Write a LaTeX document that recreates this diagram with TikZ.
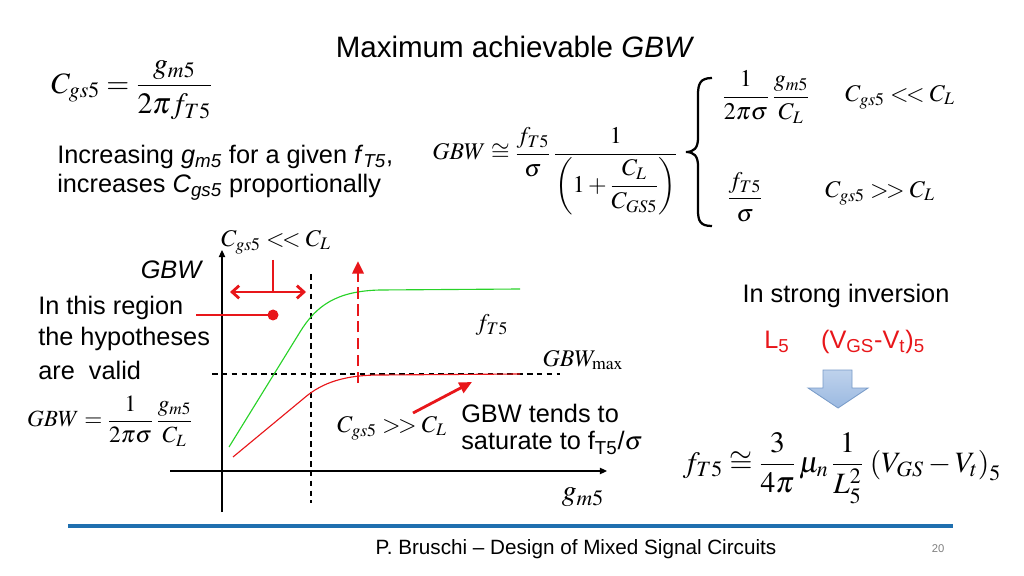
\documentclass[tikz,border=0pt]{standalone}
\usepackage{amsmath}
\usepackage{mathptmx}
\usepackage[no-math]{fontspec}
\setmainfont{Liberation Sans}
\usepackage{tikz}
\usetikzlibrary{arrows.meta,positioning}

\definecolor{myred}{RGB}{232,22,26}
\definecolor{mygreen}{RGB}{40,210,40}
\definecolor{footblue}{RGB}{31,111,175}
\definecolor{arrowtop}{RGB}{190,210,236}
\definecolor{arrowbot}{RGB}{155,185,225}
\definecolor{arrowedge}{RGB}{120,155,200}

\newcommand{\isub}[2]{\textit{#1}\textsubscript{\textit{#2}}}
\newcommand{\mll}{\mathrel{<\!<}}
\newcommand{\mgg}{\mathrel{>\!>}}

\tikzset{
  txt/.style={font=\fontsize{18}{21}\selectfont, inner sep=0pt},
  titletxt/.style={font=\fontsize{21}{25}\selectfont, inner sep=0pt},
  eqbig/.style={font=\fontsize{21}{25}\selectfont, inner sep=0pt},
  eq/.style={font=\fontsize{17}{20}\selectfont, inner sep=0pt},
  eqsmall/.style={font=\fontsize{16.5}{19}\selectfont, inner sep=0pt},
  axis/.style={line width=0.8pt, -{Triangle[length=5pt,width=4.5pt]}},
  guide/.style={line width=0.8pt, dash pattern=on 4pt off 3pt},
  redarrow/.style={draw=myred, line width=2pt},
}

\begin{document}
\begin{tikzpicture}[x=0.025cm, y=-0.025cm]
  \useasboundingbox[fill=white] (0,0) rectangle (1024,576);

  % title and top formulas
  \node[titletxt] (title) at (515,47) {Maximum achievable \textit{GBW}};
  \node[eqbig] (cgs) at (132,90) {$C_{gs5}=\dfrac{g_{m5}}{2\pi f_{T5}}$};
  \node[txt, anchor=west] (incr) at (57,157) {Increasing \isub{g}{m5} for a given \isub{f}{T5},};
  \node[txt, anchor=west] (incr2) at (57,187) {increases \isub{C}{gs5} proportionally};

  \node[eq, anchor=base west] (gbw) at (432,160)
    {$GBW\cong\dfrac{f_{T5}}{\sigma}\,\dfrac{1}{\left(1+\dfrac{C_L}{C_{GS5}}\right)}$};
  % brace
  \draw[line width=1.6pt] (712,78) .. controls (700,78) and (698,84) .. (698,95)
    -- (698,138) .. controls (698,148) and (694,152) .. (686,152)
    .. controls (694,152) and (698,156) .. (698,166)
    -- (698,210) .. controls (698,221) and (700,226) .. (712,226);
  \node[eq] (case1) at (766,97) {$\dfrac{1}{2\pi\sigma}\,\dfrac{g_{m5}}{C_L}$};
  \node[eq] (cond1) at (900,97) {$C_{gs5}\mll C_L$};
  \node[eq] (case2) at (745,197) {$\dfrac{f_{T5}}{\sigma}$};
  \node[eq] (cond2) at (880,193) {$C_{gs5}\mgg C_L$};

  % graph
  \coordinate (ybot) at (222,512);
  \coordinate (ytop) at (222,250);
  \coordinate (xl) at (170,471);
  \coordinate (xr) at (607,471);
  \draw[axis] (ybot) -- (ytop);
  \draw[axis] (xl) -- (xr);

  \coordinate (vd1) at (311,274);
  \coordinate (vd2) at (311,503);
  \coordinate (hd1) at (212,374);
  \coordinate (hd2) at (560,374);
  \draw[guide] (vd1) -- (vd2);
  \draw[guide] (hd1) -- (hd2);

  \draw[mygreen, line width=0.8pt] (229,447) -- (300,332)
    .. controls (316,306) and (336,291) .. (380,290) -- (520,289);
  \draw[myred, line width=0.8pt] (233,457) -- (303,399)
    .. controls (318,386) and (338,375) .. (380,375) -- (520,374);

  % red markers
  \coordinate (rd1) at (358,383);
  \coordinate (rd2) at (358,261);
  \draw[redarrow, dash pattern=on 8pt off 4pt, -{Triangle[length=9pt,width=8pt]}] (rd1) -- (rd2);
  \coordinate (ra1) at (230,292);
  \coordinate (ra2) at (306,292);
  \coordinate (rv1) at (273,260);
  \coordinate (rv2) at (273,292);
  \draw[redarrow, {Straight Barb[length=5pt,width=9pt]}-{Straight Barb[length=5pt,width=9pt]}] (ra1) -- (ra2);
  \draw[redarrow] (rv1) -- (rv2);
  \coordinate (rl) at (196,315);
  \coordinate (dot) at (273,315);
  \draw[redarrow] (rl) -- (dot);
  \fill[myred] (dot) circle (5.5);
  \coordinate (rs1) at (413,413);
  \coordinate (rs2) at (472,382);
  \draw[redarrow, -{Triangle[length=9pt,width=8pt]}] (rs1) -- (rs2);

  % graph labels
  \node[eq] (ccl) at (276,242) {$C_{gs5}\mll C_L$};
  \node[txt] (gbwlab) at (172,270) {\textit{GBW}};
  \node[txt, anchor=west] (reg1) at (38,308) {In this region};
  \node[txt, anchor=west] (reg2) at (38,339) {the hypotheses};
  \node[txt, anchor=west] (reg3) at (38,370) {are\ \ valid};
  \node[eqsmall] (gbweq) at (110,421) {$GBW=\dfrac{1}{2\pi\sigma}\,\dfrac{g_{m5}}{C_L}$};
  \node[eq] (ft) at (492,325) {$f_{T5}$};
  \node[eq] (gbwmax) at (583,360) {$GBW_{\mathrm{max}}$};
  \node[eq] (cgl) at (392,428) {$C_{gs5}\mgg C_L$};
  \node[txt, anchor=west] (sat1) at (461,413) {GBW tends to};
  \node[txt, anchor=west] (sat2) at (461,443) {saturate to f\textsubscript{T5}/$\sigma$};
  \node[eqbig] (gm) at (583,497) {$g_{m5}$};

  % strong inversion
  \node[txt] (strong) at (846,296) {In strong inversion};
  \node[txt, text=myred] (lfive) at (777,342) {L\textsubscript{5}};
  \node[txt, text=myred] (vov) at (873,342) {(V\textsubscript{GS}-V\textsubscript{t})\textsubscript{5}};
  \draw[draw=arrowedge, top color=arrowtop, bottom color=arrowbot, line width=0.6pt]
    (823,370) -- (852,370) -- (852,388) -- (868,388) -- (838,408)
    -- (808,388) -- (823,388) -- cycle;
  \node[eqbig] (fteq) at (842,468)
    {$f_{T5}\cong\dfrac{3}{4\pi}\,\mu_n\,\dfrac{1}{L_5^2}\,\left(V_{GS}-V_t\right)_5$};

  % footer
  \coordinate (fl) at (68,526);
  \coordinate (fr) at (953,526);
  \draw[footblue, line width=2.2pt] (fl) -- (fr);
  \node[font=\fontsize{14.7}{17}\selectfont, inner sep=0pt] (foot) at (576,549)
    {P. Bruschi -- Design of Mixed Signal Circuits};
  \node[font=\fontsize{8}{10}\selectfont, text=gray, inner sep=0pt] (page) at (938,549) {20};
\end{tikzpicture}
\end{document}
